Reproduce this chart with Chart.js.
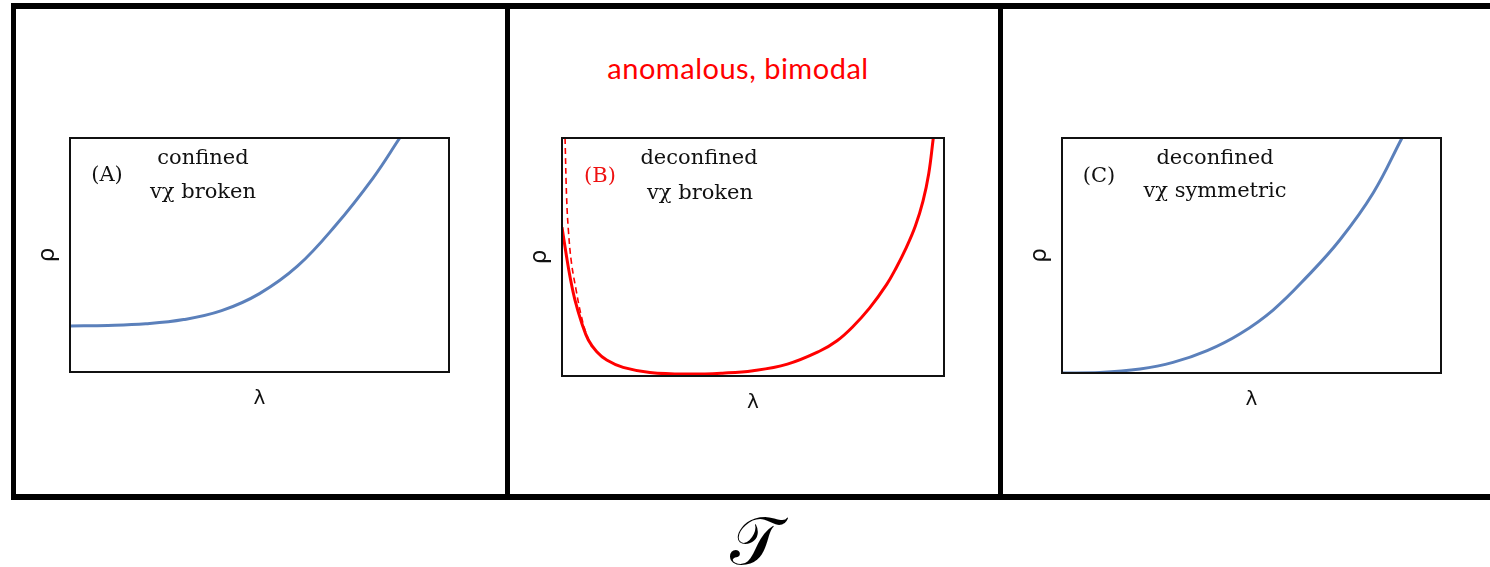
<!DOCTYPE html>
<html>
<head>
<meta charset="utf-8">
<script src="https://cdn.jsdelivr.net/npm/chart.js@4.4.1/dist/chart.umd.min.js"></script>
<style>
  body { margin: 0; background: #fff; }
  #stage { position: relative; width: 1490px; height: 567px; overflow: hidden; }
  .bar { position: absolute; background: #000; }
  .plot { position: absolute; }
  .note {
    position: absolute; transform: translate(-50%, -50%);
    font-family: "DejaVu Serif", serif; font-size: 21px; line-height: 1;
    white-space: nowrap; color: #111;
  }
  #headline {
    position: absolute; left: 738px; top: 67px; transform: translate(-50%, -50%);
    font-family: Lato, "Open Sans", sans-serif; font-size: 29px; line-height: 1;
    letter-spacing: 0.5px; color: #ff0000; white-space: nowrap;
  }
  #temp {
    position: absolute; left: 755px; top: 542px; transform: translate(-50%, -50%);
    font-family: "DejaVu Serif", serif; font-size: 66px; line-height: 1;
  }
</style>
</head>
<body>
<div id="stage">
  <!-- outer frame and the two dividers -->
  <div class="bar" style="left:11px;top:3px;width:1490px;height:6px"></div>
  <div class="bar" style="left:11px;top:494px;width:1490px;height:6px"></div>
  <div class="bar" style="left:11px;top:3px;width:5px;height:497px"></div>
  <div class="bar" style="left:505px;top:3px;width:5px;height:497px"></div>
  <div class="bar" style="left:998px;top:3px;width:5px;height:497px"></div>

  <div id="headline">anomalous, bimodal</div>

  <div class="plot" id="wrapA"><canvas id="chartA"></canvas></div>
  <div class="plot" id="wrapB"><canvas id="chartB"></canvas></div>
  <div class="plot" id="wrapC"><canvas id="chartC"></canvas></div>

  <div class="note" style="left:107px;top:174px">(A)</div>
  <div class="note" style="left:203px;top:157px">confined</div>
  <div class="note" style="left:203px;top:191px">vχ broken</div>

  <div class="note" style="left:600px;top:175px;color:#ee1111">(B)</div>
  <div class="note" style="left:699px;top:157px">deconfined</div>
  <div class="note" style="left:700px;top:192px">vχ broken</div>

  <div class="note" style="left:1099px;top:175px">(C)</div>
  <div class="note" style="left:1215px;top:157px">deconfined</div>
  <div class="note" style="left:1215px;top:190px">vχ symmetric</div>

  <div id="temp">𝒯</div>
</div>

<script>
// (A) confined, chiral symmetry broken
const lamA = [0, 0.1, 0.2, 0.3, 0.4, 0.5, 0.6, 0.7, 0.8, 0.87];
const rhoA = [0.197, 0.199, 0.206, 0.224, 0.262, 0.335, 0.452, 0.625, 0.83, 1.0];

// (B) deconfined, broken -- solid curve plus the dashed branch near λ = 0
const lamB = [0, 0.012, 0.021, 0.034, 0.052, 0.069, 0.091, 0.117, 0.16, 0.23, 0.33,
              0.42, 0.5, 0.59, 0.675, 0.72, 0.76, 0.805, 0.85, 0.875, 0.9, 0.925,
              0.945, 0.96, 0.972];
const rhoB = [0.625, 0.501, 0.417, 0.319, 0.221, 0.151, 0.102, 0.067, 0.036, 0.015, 0.008,
              0.012, 0.022, 0.05, 0.105, 0.148, 0.205, 0.285, 0.385, 0.455, 0.535, 0.63,
              0.735, 0.85, 1.0];
const lamBdash = [0.008, 0.012, 0.017, 0.025, 0.037, 0.049, 0.063, 0.078];
const rhoBdash = [1.0, 0.753, 0.606, 0.473, 0.361, 0.263, 0.179, 0.123];

// (C) deconfined, symmetric
const lamC = [0, 0.1, 0.206, 0.293, 0.383, 0.47, 0.557, 0.646, 0.733, 0.821, 0.897];
const rhoC = [0, 0.002, 0.017, 0.045, 0.095, 0.167, 0.268, 0.409, 0.566, 0.766, 1.0];

const BLUE = '#5b80bb';
const RED = '#ff0000';

function pts(xs, ys) {
  return xs.map((x, i) => ({ x: x, y: ys[i] }));
}

// thin box around the plotting area
const boxOutline = {
  id: 'boxOutline',
  afterDatasetsDraw(chart) {
    const { ctx, chartArea: a } = chart;
    ctx.save();
    ctx.strokeStyle = '#111';
    ctx.lineWidth = 2;
    ctx.strokeRect(a.left, a.top, a.right - a.left, a.bottom - a.top);
    ctx.restore();
  }
};

function line(data, color, dash, width) {
  return {
    data: data,
    borderColor: color,
    borderWidth: width,
    borderDash: dash,
    pointRadius: 0,
    fill: false,
    tension: 0.4
  };
}

// plot box in page pixels: left, top, right, bottom
function makePlot(id, wrapId, box, datasets) {
  const [l, t, r, b] = box;
  const w = r - l + 50, h = b - t + 55;
  const wrap = document.getElementById(wrapId);
  wrap.style.left = (l - 40) + 'px';
  wrap.style.top = (t - 10) + 'px';
  const cv = document.getElementById(id);
  cv.width = w; cv.height = h;

  return new Chart(cv, {
    type: 'line',
    data: { datasets: datasets },
    options: {
      responsive: false,
      animation: false,
      layout: { padding: { top: 10, right: 10, left: 0, bottom: 0 } },
      plugins: { legend: { display: false }, tooltip: { enabled: false } },
      scales: {
        x: {
          type: 'linear', min: 0, max: 1,
          grid: { display: false }, border: { display: false },
          ticks: { display: false },
          title: { display: true, text: 'λ', color: '#111',
                   font: { family: 'DejaVu Sans', size: 20 }, padding: { top: 0, bottom: 6 } },
          afterFit(s) { s.height = 45; }
        },
        y: {
          min: 0, max: 1,
          grid: { display: false }, border: { display: false },
          ticks: { display: false },
          title: { display: true, text: 'ρ', color: '#111',
                   font: { family: 'DejaVu Sans', size: 23 }, padding: { top: 4, bottom: 0 } },
          afterFit(s) { s.width = 40; }
        }
      }
    },
    plugins: [boxOutline]
  });
}

makePlot('chartA', 'wrapA', [70, 138, 449, 372], [
  line(pts(lamA, rhoA), BLUE, [], 3)
]);
makePlot('chartB', 'wrapB', [562, 138, 944, 376], [
  line(pts(lamB, rhoB), RED, [], 3),
  line(pts(lamBdash, rhoBdash), RED, [6, 4], 1.6)
]);
makePlot('chartC', 'wrapC', [1062, 138, 1441, 373], [
  line(pts(lamC, rhoC), BLUE, [], 3)
]);
</script>
</body>
</html>
